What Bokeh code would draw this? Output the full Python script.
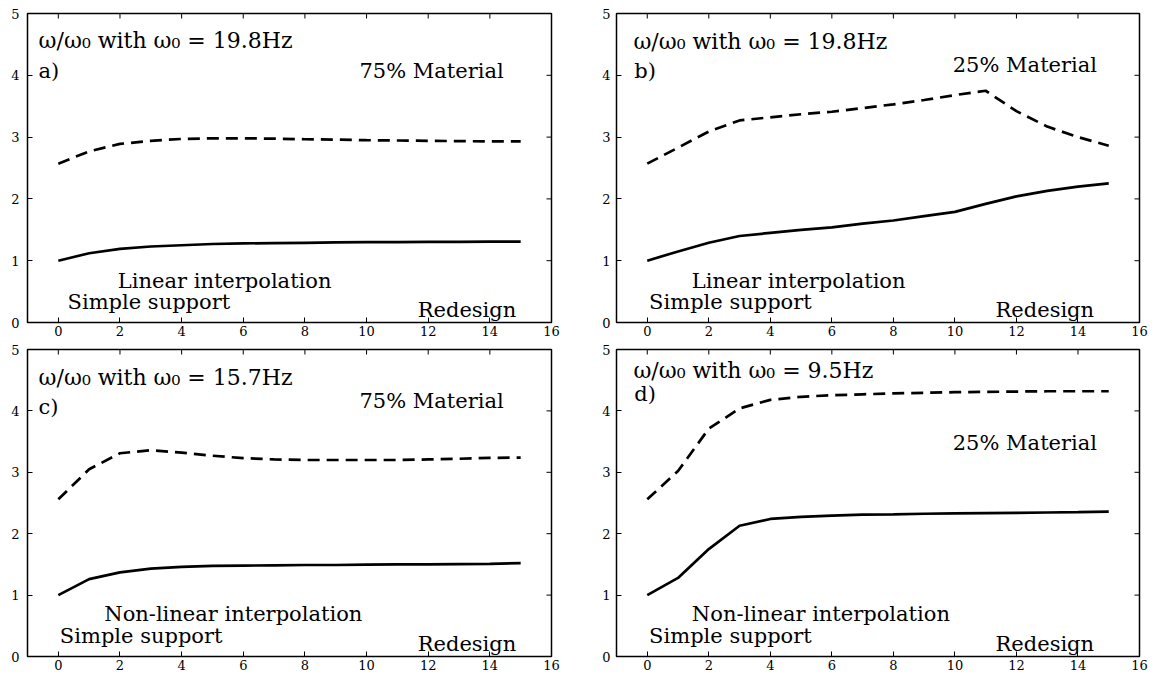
import math
from bokeh.plotting import figure
from bokeh.models import Range1d, FixedTicker, Label
from bokeh.layouts import column, row
from bokeh.embed import file_html
from bokeh.resources import INLINE

# ---------------- data ----------------
steps = list(range(16))
x_ticks = [0, 2, 4, 6, 8, 10, 12, 14, 16]
y_ticks = [0, 1, 2, 3, 4, 5]

a_solid = [1.0, 1.12, 1.19, 1.23, 1.25, 1.27, 1.28, 1.285, 1.29, 1.295, 1.30, 1.30, 1.305, 1.305, 1.31, 1.31]
a_dashed = [2.57, 2.77, 2.89, 2.94, 2.97, 2.98, 2.98, 2.975, 2.965, 2.96, 2.95, 2.945, 2.94, 2.935, 2.93, 2.93]
b_solid = [1.0, 1.15, 1.29, 1.40, 1.45, 1.50, 1.54, 1.60, 1.65, 1.72, 1.79, 1.92, 2.04, 2.13, 2.20, 2.25]
b_dashed = [2.57, 2.83, 3.09, 3.27, 3.32, 3.37, 3.41, 3.47, 3.53, 3.60, 3.68, 3.75, 3.42, 3.17, 3.00, 2.86]
c_solid = [1.0, 1.26, 1.37, 1.43, 1.46, 1.475, 1.48, 1.485, 1.49, 1.49, 1.495, 1.50, 1.50, 1.505, 1.51, 1.52]
c_dashed = [2.56, 3.05, 3.31, 3.36, 3.32, 3.27, 3.23, 3.21, 3.20, 3.20, 3.20, 3.20, 3.21, 3.22, 3.235, 3.24]
d_solid = [1.0, 1.28, 1.75, 2.13, 2.24, 2.275, 2.295, 2.31, 2.315, 2.325, 2.33, 2.335, 2.34, 2.345, 2.35, 2.36]
d_dashed = [2.56, 3.02, 3.71, 4.04, 4.18, 4.23, 4.255, 4.27, 4.285, 4.295, 4.305, 4.31, 4.315, 4.32, 4.32, 4.32]

titles = ["ω/ω₀ with ω₀ = 19.8Hz", "ω/ω₀ with ω₀ = 19.8Hz", "ω/ω₀ with ω₀ = 15.7Hz", "ω/ω₀ with ω₀ = 9.5Hz"]
tags = ["a)", "b)", "c)", "d)"]
materials = ["75% Material", "25% Material", "75% Material", "25% Material"]
interps = ["Linear interpolation", "Linear interpolation", "Non-linear interpolation", "Non-linear interpolation"]
support_text = "Simple support"
redesign_text = "Redesign"

# ---------------- layout / styling ----------------
FONT = "DejaVu Serif"
TEXT_SIZE = "21px"
TITLE_SIZE = "22px"
TICK_SIZE = "13px"

# label positions (data units) per panel: title, tag, material, interp, support, redesign
label_pos = [
    [(-0.64, 4.56), (-0.64, 4.07), (9.77, 4.07), (1.93, 0.67), (0.30, 0.33), (11.66, 0.21)],
    [(-0.45, 4.55), (-0.42, 4.07), (9.93, 4.17), (1.45, 0.675), (0.06, 0.325), (11.32, 0.21)],
    [(-0.64, 4.55), (-0.64, 4.06), (9.77, 4.16), (1.49, 0.686), (0.05, 0.335), (11.66, 0.21)],
    [(-0.45, 4.66), (-0.42, 4.27), (9.93, 3.47), (1.45, 0.686), (0.06, 0.335), (11.32, 0.21)],
]

# figure geometry: (width, height, left, right, top, bottom, ystandoff)
geom = [
    (583, 341, 27, 32, 13, 19, 8),
    (584, 341, 33, 28, 13, 19, 6),
    (583, 340, 27, 32, 8, 25, 8),
    (584, 340, 33, 28, 8, 25, 6),
]


def make_panel(i, solid, dashed):
    w, h, ml, mr, mt, mb, ystand = geom[i]
    p = figure(width=w, height=h, output_backend="svg", toolbar_location=None,
               x_range=Range1d(-1, 16), y_range=Range1d(0, 5),
               min_border_left=ml, min_border_right=mr,
               min_border_top=mt, min_border_bottom=mb,
               background_fill_color="white", border_fill_color="white")
    p.grid.visible = False
    p.outline_line_color = "black"
    p.outline_line_width = 1.5
    p.outline_line_alpha = 1.0

    p.xaxis.ticker = FixedTicker(ticks=x_ticks)
    p.yaxis.ticker = FixedTicker(ticks=y_ticks)
    for ax in (p.xaxis[0], p.yaxis[0]):
        ax.axis_line_color = None
        ax.major_tick_in = 5
        ax.major_tick_out = 0
        ax.minor_tick_line_color = None
        ax.major_tick_line_color = "black"
        ax.major_tick_line_width = 1
        ax.major_label_text_font = FONT
        ax.major_label_text_font_size = TICK_SIZE
        ax.major_label_text_color = "black"
    p.xaxis[0].major_label_standoff = 3
    p.yaxis[0].major_label_standoff = ystand

    # mirrored inward ticks on the top and right borders (clipped to the frame)
    p.scatter(x_ticks, [5] * len(x_ticks), marker="dash", size=10, angle=math.pi / 2,
              line_color="black", line_width=1)
    p.scatter([16] * len(y_ticks), y_ticks, marker="dash", size=10,
              line_color="black", line_width=1)

    p.line(steps, solid, line_color="black", line_width=2.7)
    p.line(steps, dashed, line_color="black", line_width=2.7, line_dash="12 7")

    texts = [titles[i], tags[i], materials[i], interps[i], support_text, redesign_text]
    sizes = [TITLE_SIZE] + [TEXT_SIZE] * 5
    for t, s, (x, y) in zip(texts, sizes, label_pos[i]):
        p.add_layout(Label(x=x, y=y, text=t, text_font=FONT, text_font_size=s,
                           text_color="black", text_align="left", text_baseline="alphabetic"))
    return p


pa = make_panel(0, a_solid, a_dashed)
pb = make_panel(1, b_solid, b_dashed)
pc = make_panel(2, c_solid, c_dashed)
pd = make_panel(3, d_solid, d_dashed)

layout = column(row(pa, pb, spacing=0), row(pc, pd, spacing=0), spacing=0)

open("out.html", "w").write(file_html(layout, INLINE))
